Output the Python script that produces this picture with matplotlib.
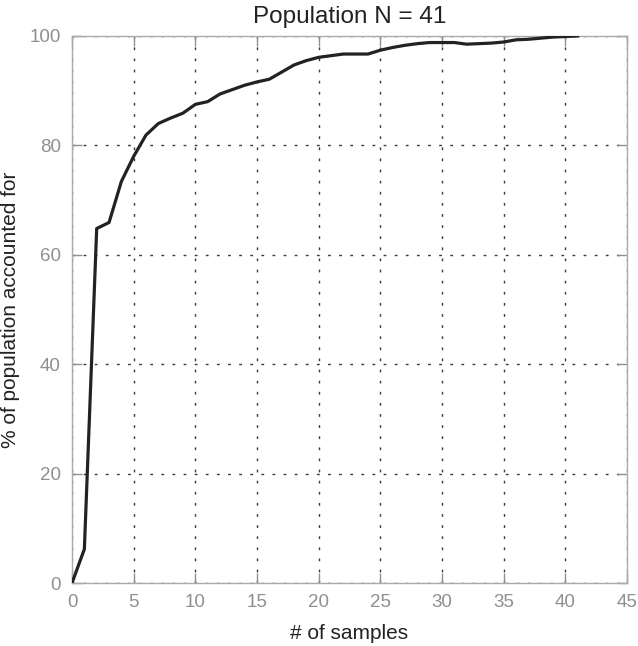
import matplotlib
matplotlib.use("Agg")
import matplotlib.pyplot as plt
import numpy as np

plt.rcParams['font.family'] = ['Liberation Sans', 'DejaVu Sans']

# number of samples vs % of population accounted for
samples = list(range(0, 42))
pct = [0, 6.2, 64.8, 65.9, 73.4, 78.0, 81.9, 84.0, 85.0, 85.9,
       87.5, 88.0, 89.4, 90.2, 91.0, 91.6, 92.1, 93.4, 94.7, 95.5,
       96.1, 96.4, 96.7, 96.7, 96.7, 97.4, 97.9, 98.3, 98.6, 98.8,
       98.8, 98.8, 98.5, 98.6, 98.7, 98.9, 99.3, 99.4, 99.6, 99.8,
       99.9, 100.0]

xticks = np.arange(0, 46, 5)
yticks = np.arange(0, 101, 20)

grey = '#8f8f8f'

fig = plt.figure(figsize=(6.38, 6.46), dpi=100)
ax = fig.add_axes([0.1129, 0.0975, 0.8699, 0.8468])

ax.plot(samples, pct, color='#222222', lw=2.3, zorder=3)

ax.set_xlim(0, 45)
ax.set_ylim(0, 100)
ax.set_xticks(xticks)
ax.set_yticks(yticks)
ax.grid(True, color='#3a3a3a', linestyle=(0, (2, 6)), linewidth=1.0)
ax.tick_params(direction='in', length=7, width=1, colors=grey, labelsize=13.5,
               pad=8, top=True, right=True)
for s in ax.spines.values():
    s.set_color('#aaaaaa')
    s.set_linewidth(1.0)

ax.set_xlabel('# of samples', fontsize=15, color='#222222', labelpad=9)
ax.set_ylabel('% of population accounted for', fontsize=15, color='#222222', labelpad=7)
ax.set_title('Population N = 41', fontsize=17.5, color='#222222', pad=9)

fig.savefig('out.png', dpi=100)
